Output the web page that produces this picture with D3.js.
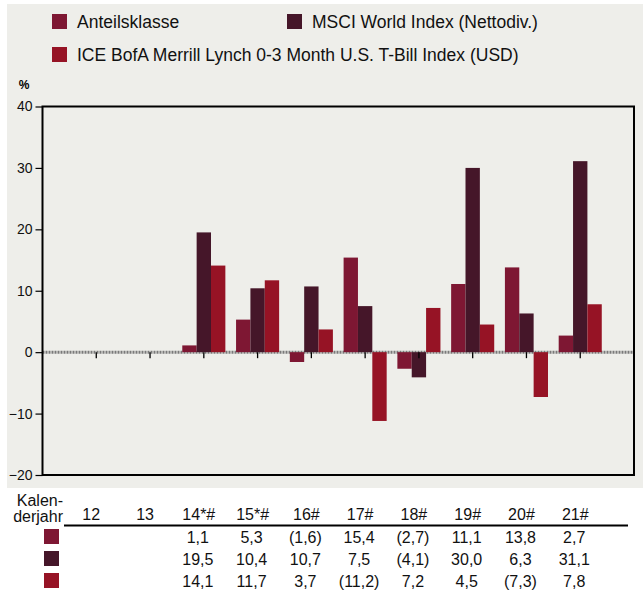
<!DOCTYPE html>
<html>
<head>
<meta charset="utf-8">
<script src="https://cdn.jsdelivr.net/npm/d3@7"></script>
<style>
  body { margin: 0; background: #fff; }
  svg { display: block; font-family: "Liberation Sans", Arial, sans-serif; }
</style>
</head>
<body>
<svg id="chart"></svg>
<script>
// values
const categories = ["12", "13", "14*#", "15*#", "16#", "17#", "18#", "19#", "20#", "21#"];
const anteilsklasse = [null, null, 1.1, 5.3, -1.6, 15.4, -2.7, 11.1, 13.8, 2.7];
const msciWorld = [null, null, 19.5, 10.4, 10.7, 7.5, -4.1, 30.0, 6.3, 31.1];
const iceBofa = [null, null, 14.1, 11.7, 3.7, -11.2, 7.2, 4.5, -7.3, 7.8];
const yTicks = [40, 30, 20, 10, 0, -10, -20];

const seriesNames = ["Anteilsklasse", "MSCI World Index (Nettodiv.)", "ICE BofA Merrill Lynch 0-3 Month U.S. T-Bill Index (USD)"];
const seriesValues = [anteilsklasse, msciWorld, iceBofa];
const colors = ["#7e1733", "#451629", "#961325"];

const svgWidth = 643,
    svgHeight = 591;

const plot = {left: 42.5, right: 634, top: 106.5, bottom: 475};

const chart = d3.select("#chart")
    .attr("width", svgWidth)
    .attr("height", svgHeight);

// grey panel behind legend + plot
chart.append("rect")
    .attr("x", 7).attr("y", 4)
    .attr("width", svgWidth - 7).attr("height", 484)
    .attr("fill", "#eeeeea");

var xScale = d3.scalePoint().domain(categories).range([plot.left, plot.right]).padding(1);
var yScale = d3.scaleLinear().domain([-20, 40]).range([plot.bottom, plot.top]);
const barW = xScale.step() * 0.267;

// legend
const legendPos = [{x: 52, y: 14}, {x: 287, y: 14}, {x: 52, y: 47}];
var legend = chart.append("g").selectAll("g")
    .data(seriesNames)
    .enter().append("g")
    .attr("transform", (d, i) => `translate(${legendPos[i].x},${legendPos[i].y})`);
legend.append("rect")
    .attr("width", 15).attr("height", 15)
    .attr("fill", (d, i) => colors[i]);
legend.append("text")
    .attr("x", 25).attr("y", 13.5)
    .style("font-size", "17.5px")
    .attr("fill", "#111")
    .text(d => d);

chart.append("text")
    .attr("x", 24).attr("y", 89)
    .attr("text-anchor", "middle")
    .style("font-size", "12px")
    .style("font-weight", "bold")
    .text("%");

// y axis
var yAxis = d3.axisLeft(yScale).tickValues(yTicks).tickSize(7).tickPadding(3);
var yg = chart.append("g")
    .attr("transform", `translate(${plot.left},0)`)
    .call(yAxis);
yg.select(".domain").remove();
yg.selectAll("line").attr("stroke", "#000").attr("stroke-width", 1.2);
yg.selectAll("text")
    .style("font-size", "14px")
    .style("font-family", "'Liberation Sans', Arial, sans-serif")
    .attr("fill", "#111");

// zero line
chart.append("line")
    .attr("x1", plot.left).attr("x2", plot.right)
    .attr("y1", yScale(0)).attr("y2", yScale(0))
    .attr("stroke", "#7a7a7a")
    .attr("stroke-width", 3)
    .attr("stroke-dasharray", "2,1");

// bars
seriesValues.forEach(function(vals, s) {
    chart.append("g").selectAll("rect")
        .data(categories.map((c, i) => ({cat: c, value: vals[i]})).filter(d => d.value != null))
        .enter().append("rect")
        .attr("x", d => xScale(d.cat) + (s - 1) * barW - barW / 2)
        .attr("y", d => yScale(Math.max(0, d.value)))
        .attr("width", barW)
        .attr("height", d => Math.abs(yScale(d.value) - yScale(0)))
        .attr("fill", colors[s]);
});

// category ticks under the zero line
chart.append("g").selectAll("line")
    .data(categories)
    .enter().append("line")
    .attr("x1", d => xScale(d)).attr("x2", d => xScale(d))
    .attr("y1", yScale(0)).attr("y2", yScale(0) + 6)
    .attr("stroke", "#000")
    .attr("stroke-width", 1.3);

// frame
chart.append("rect")
    .attr("x", plot.left).attr("y", plot.top)
    .attr("width", plot.right - plot.left)
    .attr("height", plot.bottom - plot.top)
    .attr("fill", "none")
    .attr("stroke", "#000")
    .attr("stroke-width", 2);

// table below
var table = chart.append("g").style("font-size", "16px").attr("fill", "#111");

table.append("text").attr("x", 63).attr("y", 506).attr("text-anchor", "end").text("Kalen-");
table.append("text").attr("x", 63).attr("y", 522).attr("text-anchor", "end").text("derjahr");

table.selectAll(".cat")
    .data(categories)
    .enter().append("text")
    .attr("class", "cat")
    .attr("x", d => xScale(d) - 5)
    .attr("y", 520)
    .attr("text-anchor", "middle")
    .text(d => d);

table.append("line")
    .attr("x1", 64).attr("x2", 628)
    .attr("y1", 525.5).attr("y2", 525.5)
    .attr("stroke", "#000")
    .attr("stroke-width", 2);

var fmt = function(v) {
    var s = d3.format(".1f")(Math.abs(v)).replace(".", ",");
    return v < 0 ? "(" + s + ")" : s;
};

const rowY = [543, 565, 587];
seriesValues.forEach(function(vals, s) {
    table.append("rect")
        .attr("x", 44).attr("y", rowY[s] - 14)
        .attr("width", 15).attr("height", 15)
        .attr("fill", colors[s]);
    table.append("g").selectAll("text")
        .data(categories.map((c, i) => ({cat: c, value: vals[i]})).filter(d => d.value != null))
        .enter().append("text")
        .attr("x", d => xScale(d.cat) - 6)
        .attr("y", rowY[s])
        .attr("text-anchor", "middle")
        .text(d => fmt(d.value));
});
</script>
</body>
</html>
